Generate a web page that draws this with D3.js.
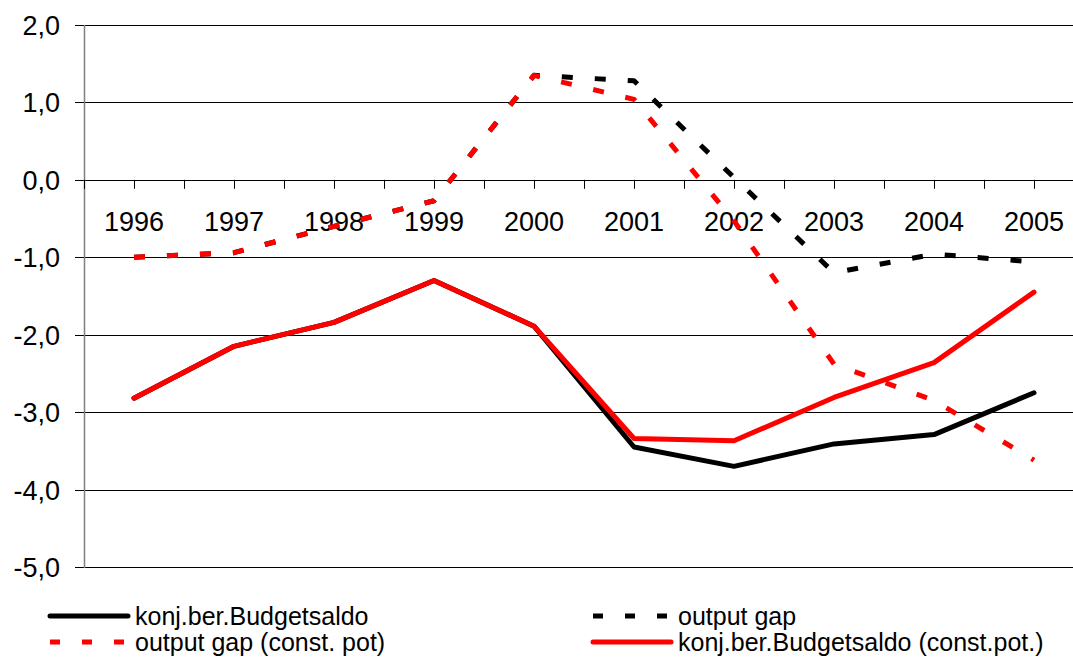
<!DOCTYPE html>
<html>
<head>
<meta charset="utf-8">
<title></title>
<style>
  body { margin: 0; background: #fff; }
  text { font-family: "Liberation Sans", Arial, sans-serif; }
</style>
</head>
<body>
<script src="https://d3js.org/d3.v7.min.js"></script>
<script>
var years = ["1996","1997","1998","1999","2000","2001","2002","2003","2004","2005"];
var yTicks = [2, 1, 0, -1, -2, -3, -4, -5];

// series
var budget      = [-2.82, -2.15, -1.84, -1.30, -1.89, -3.45, -3.70, -3.41, -3.29, -2.75];
var gap         = [-1.00, -0.94, -0.60, -0.27, 1.35, 1.28, 0.03, -1.20, -0.96, -1.06];
var gapConst    = [-1.00, -0.94, -0.60, -0.27, 1.35, 1.04, -0.53, -2.38, -2.85, -3.62];
var budgetConst = [-2.82, -2.15, -1.84, -1.30, -1.89, -3.34, -3.37, -2.81, -2.36, -1.45];

var W = 1073, H = 659;
var plot = { left: 84, right: 1084, top: 25, bottom: 567 };

var svg = d3.select("body").append("svg")
    .attr("width", W).attr("height", H);

var x = d3.scaleBand().domain(years).range([plot.left, plot.right]).padding(0);
var y = d3.scaleLinear().domain([-5, 2]).range([plot.bottom, plot.top]);
var xc = function(d) { return x(d) + x.bandwidth() / 2; };

// gridlines + y labels
svg.append("g")
    .selectAll("line").data(yTicks).enter().append("line")
    .attr("x1", plot.left - 9).attr("x2", W)
    .attr("y1", function(d) { return Math.round(y(d)) + 0.5; })
    .attr("y2", function(d) { return Math.round(y(d)) + 0.5; })
    .style("stroke", "#000").style("stroke-width", 1);

svg.append("g")
    .selectAll("text").data(yTicks).enter().append("text")
    .attr("x", 60)
    .attr("y", function(d) { return y(d) + 10; })
    .attr("text-anchor", "end")
    .style("font-size", "27px")
    .text(function(d) { return d3.format(".1f")(d).replace(".", ",").replace("−", "-"); });

// y axis line
svg.append("line")
    .attr("x1", plot.left + 0.5).attr("x2", plot.left + 0.5)
    .attr("y1", plot.top).attr("y2", plot.bottom + 1)
    .style("stroke", "#808080").style("stroke-width", 1.5);

// x axis ticks on the zero line
var tickPos = [];
years.forEach(function(d) { tickPos.push(x(d)); tickPos.push(xc(d)); });
tickPos.push(plot.right);
svg.append("g")
    .selectAll("line").data(tickPos).enter().append("line")
    .attr("x1", function(d) { return Math.round(d) + 0.5; })
    .attr("x2", function(d) { return Math.round(d) + 0.5; })
    .attr("y1", y(0)).attr("y2", y(0) + 9)
    .style("stroke", "#000").style("stroke-width", 1);

svg.append("g")
    .selectAll("text").data(years).enter().append("text")
    .attr("x", function(d) { return xc(d); })
    .attr("y", 231)
    .attr("text-anchor", "middle")
    .style("font-size", "27px")
    .text(function(d) { return d; });

var line = d3.line()
    .x(function(d, i) { return xc(years[i]); })
    .y(function(d) { return y(d); });

var series = [
  { name: "konj.ber.Budgetsaldo", values: budget, color: "#000", dash: null },
  { name: "output gap", values: gap, color: "#000", dash: "11,22" },
  { name: "output gap (const. pot)", values: gapConst, color: "#ff0000", dash: "11,22" },
  { name: "konj.ber.Budgetsaldo (const.pot.)", values: budgetConst, color: "#ff0000", dash: null }
];

series.forEach(function(s) {
  svg.append("path")
      .datum(s.values)
      .attr("d", line)
      .style("fill", "none")
      .style("stroke", s.color)
      .style("stroke-width", 5)
      .style("stroke-linejoin", "round")
      .style("stroke-linecap", s.dash ? "butt" : "round")
      .style("stroke-dasharray", s.dash);
});

// legend
var legendItems = [
  { s: series[0], x: 50, y: 616 },
  { s: series[1], x: 593, y: 616 },
  { s: series[2], x: 50, y: 642 },
  { s: series[3], x: 593, y: 642 }
];
legendItems.forEach(function(l) {
  svg.append("line")
      .attr("x1", l.x).attr("x2", l.x + 78)
      .attr("y1", l.y).attr("y2", l.y)
      .style("stroke", l.s.color)
      .style("stroke-width", 5)
      .style("stroke-linecap", l.s.dash ? "butt" : "round")
      .style("stroke-dasharray", l.s.dash ? "10,22" : null);
  svg.append("text")
      .attr("x", l.x + 85)
      .attr("y", l.y + 9)
      .style("font-size", "25px")
      .text(l.s.name);
});
</script>
</body>
</html>
